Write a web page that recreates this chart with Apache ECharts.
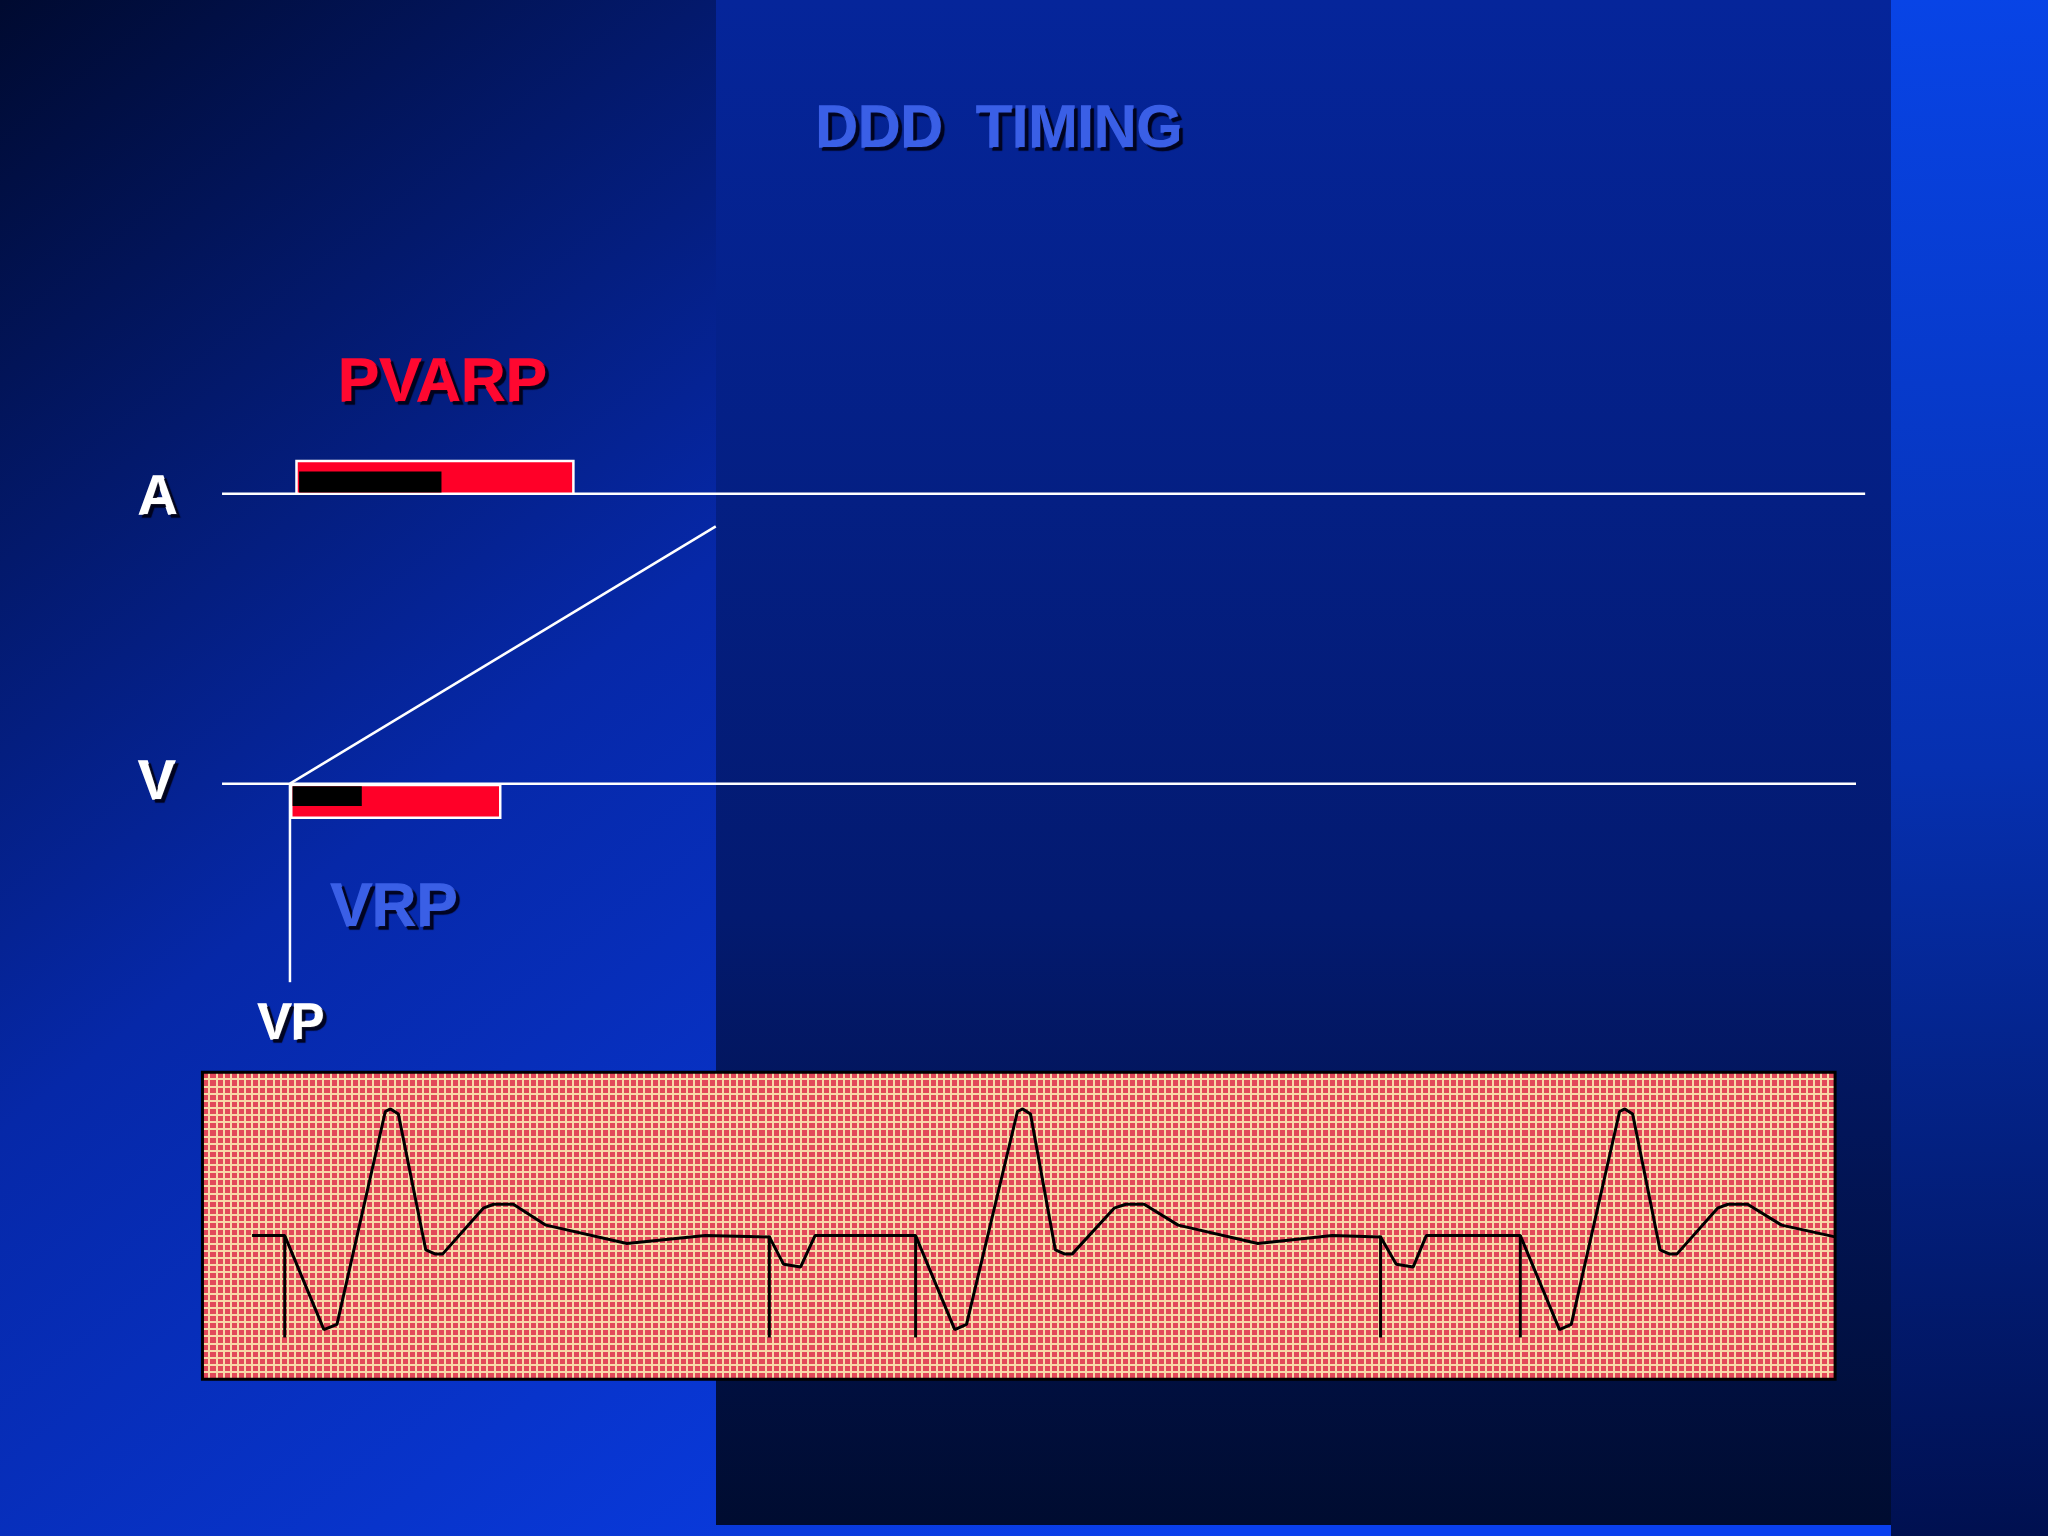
<!DOCTYPE html>
<html><head><meta charset="utf-8">
<script src="https://cdn.jsdelivr.net/npm/echarts@6/dist/echarts.min.js"></script>
<style>html,body{margin:0;padding:0;background:#000}#c{width:2048px;height:1536px}</style>
</head><body><div id="c"></div>
<script>
// diagram coordinates (slide units: 1568 x 1176)
const aLine = [[170,378],[1428,378]];
const vLine = [[170,600],[1421,600]];
const avDiag = [[222,600],[548,403]];
const vpMarker = [[222,600],[222,752]];
// rectangles [x0,x1,y0,y1,fill,outline]
const refractoryBars = [
  [227,439,353,378,'#ff0028','#ffffff'],
  [229,338,361,377,'#000000',null],
  [223,383,601,626,'#ff0028','#ffffff'],
  [224,277,602,617,'#000000',null],
  [155,1405,821,1056,null,'#000000']
];
const ecgTrace = [[193,946],[218,946],[248,1018],[258,1014],[295,851],[299,849],[305,853],[326,957],[333,960],[339,960],[370,925],[378,922],[393,922],[418,938],[480,952],[540,946],[589,947],[600,968],[613,970],[624,946],[701,946],[731,1018],[740,1014],[779,851],[783,849],[789,853],[808,957],[815,960],[821,960],[853,925],[862,922],[876,922],[902,938],[963,952],[1020,946],[1057,947],[1069,968],[1082,970],[1092,946],[1164,946],[1194,1018],[1203,1014],[1240,851],[1244,849],[1250,853],[1271,957],[1278,960],[1284,960],[1315,925],[1323,922],[1338,922],[1364,938],[1405,947]];
const paceSpikes = [218,589,701,1057,1164];
const spikeRange = [946,1024];
const labels = [
  {t:'DDD  TIMING',x:765,y:100,c:'#3a5fe6',s:59},
  {t:'PVARP',x:339,y:294,c:'#ff0830',s:62},
  {t:'VRP',x:302,y:696,c:'#3a5fe6',s:62},
  {t:'A',x:121,y:382,c:'#ffffff',s:55},
  {t:'V',x:120,y:600,c:'#ffffff',s:55},
  {t:'VP',x:223,y:785,c:'#ffffff',s:50}
];

const chart = echarts.init(document.getElementById('c'));
const K = 2048/1568;
const lineS = (d,w,c)=>({type:'line',data:d,symbol:'none',lineStyle:{color:c,width:w},xAxisIndex:0,yAxisIndex:0,z:5,silent:true});
const series = [
  lineS(aLine,2.5,'#fff'), lineS(vLine,2.5,'#fff'), lineS(avDiag,2.5,'#fff'), lineS(vpMarker,2.5,'#fff'),
  {type:'custom',xAxisIndex:0,yAxisIndex:0,z:6,data:refractoryBars,
   renderItem:(p,api)=>{
     const r=refractoryBars[p.dataIndex];
     const a=api.coord([r[0],r[2]]), b=api.coord([r[1],r[3]]);
     return {type:'rect',shape:{x:a[0],y:a[1],width:b[0]-a[0],height:b[1]-a[1]},
       style:{fill:r[4]||'none',stroke:r[5],lineWidth:r[5]?(r[4]?2.5:3):0}};
   }},
  lineS(ecgTrace,3,'#000'),
];
paceSpikes.forEach(x=>series.push(lineS([[x,spikeRange[0]],[x,spikeRange[1]]],3,'#000')));

const graphic = [
  {type:'rect',z:-10,shape:{x:0,y:0,width:2048,height:1536},style:{fill:new echarts.graphic.LinearGradient(0,0,0.6,1,[{offset:0,color:'#000a30'},{offset:0.45,color:'#0628a8'},{offset:1,color:'#0a40ee'}])}},
  {type:'rect',z:-9,shape:{x:716,y:0,width:1175,height:1525},style:{fill:new echarts.graphic.LinearGradient(0,0,0,1,[{offset:0,color:'#05259a'},{offset:0.6,color:'#031a70'},{offset:1,color:'#000c30'}])}},
  {type:'rect',z:-9,shape:{x:1891,y:0,width:157,height:1536},style:{fill:new echarts.graphic.LinearGradient(0,0,0.3,1,[{offset:0,color:'#0844e6'},{offset:0.5,color:'#0630b0'},{offset:1,color:'#001050'}])}}
];
labels.forEach(l=>graphic.push({type:'text',z:20,x:l.x*K,y:l.y*K,style:{text:l.t,fill:l.c,font:'bold '+l.s+'px Arial, "Liberation Sans", sans-serif',align:'center',verticalAlign:'middle',stroke:l.c,lineWidth:1.5,textShadowColor:'rgba(0,0,20,0.9)',textShadowOffsetX:3,textShadowOffsetY:3,textShadowBlur:1}}));

chart.setOption({
  animation:false,
  graphic,
  grid:[
    {left:0,top:0,right:0,bottom:0,show:false},
    {left:202,top:1072,width:1633,height:307,show:true,backgroundColor:'#e2485a',borderWidth:0}
  ],
  xAxis:[
    {gridIndex:0,type:'value',min:0,max:1568,show:false},
    {gridIndex:1,type:'value',min:0,max:229,interval:1,z:3,axisLine:{show:false},axisTick:{show:false},axisLabel:{show:false},splitLine:{show:true,lineStyle:{color:'#f8d8a8',width:2}}}
  ],
  yAxis:[
    {gridIndex:0,type:'value',min:0,max:1176,inverse:true,show:false},
    {gridIndex:1,type:'value',min:0,max:43,interval:1,z:3,axisLine:{show:false},axisTick:{show:false},axisLabel:{show:false},splitLine:{show:true,lineStyle:{color:'#f8d8a8',width:2}}}
  ],
  series
});
</script></body></html>
